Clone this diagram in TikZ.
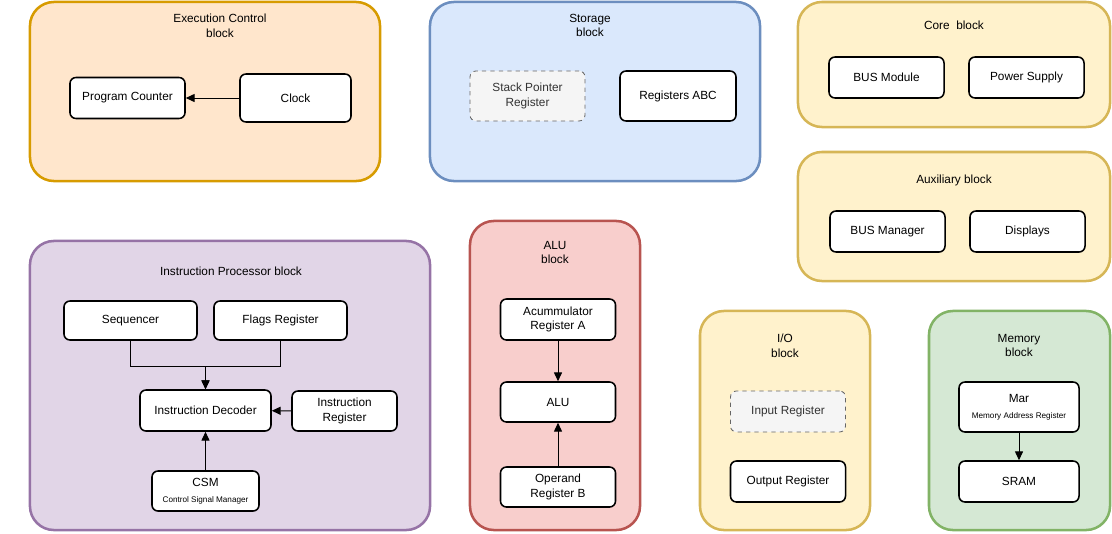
\documentclass[tikz,border=0pt]{standalone}
\usepackage{fontspec}
\setmainfont{Liberation Sans}
\usetikzlibrary{arrows.meta}
\definecolor{orgfill}{HTML}{FFE6CC}\definecolor{orgdraw}{HTML}{D79B00}
\definecolor{bluefill}{HTML}{DAE8FC}\definecolor{bluedraw}{HTML}{6C8EBF}
\definecolor{yelfill}{HTML}{FFF2CC}\definecolor{yeldraw}{HTML}{D6B656}
\definecolor{purfill}{HTML}{E1D5E7}\definecolor{purdraw}{HTML}{9673A6}
\definecolor{redfill}{HTML}{F8CECC}\definecolor{reddraw}{HTML}{B85450}
\definecolor{grnfill}{HTML}{D5E8D4}\definecolor{grndraw}{HTML}{82B366}
\definecolor{gryfill}{HTML}{F5F5F5}\definecolor{grydraw}{HTML}{666666}
\definecolor{grytext}{HTML}{333333}
\newcommand\subtxt[1]{{\fontsize{5.8}{7}\selectfont #1}}
\tikzset{
	block/.style 2 args={draw=#1, fill=#2, line width=1.8pt, rounded corners=0.6cm, inner sep=0pt},
	unit/.style={draw, fill=white, line width=1.1pt, rounded corners=0.15cm, align=center,
		minimum width=2.875cm, minimum height=1.025cm, inner sep=1pt},
	ghost/.style={unit, draw=grydraw, fill=gryfill, text=grytext, dashed, line width=0.6pt},
	title/.style={align=center, font=\fontsize{8.4}{10.5}\selectfont},
	arr/.style={-{Triangle[length=2.2mm,width=2mm]}, line width=0.7pt}
}
\begin{document}
\begin{tikzpicture}[x=0.025cm, y=-0.025cm, font=\fontsize{8.4}{10.5}\selectfont]
		\useasboundingbox (0,0) rectangle (1112,533);
		% Execution control
		\node[block={orgdraw}{orgfill}, minimum width=8.75cm, minimum height=4.475cm] (exec) at (205,91.5) {};
		\node[title] (execT) at (220,25.5) {Execution Control\\block};
		\node[unit] (pc) at (127.5,98) {Program Counter};
		\node[unit, minimum width=2.775cm, minimum height=1.2cm] (clk) at (295.5,98) {Clock};
		\draw[arr] (clk) -- (pc);
		% Storage
		\node[block={bluedraw}{bluefill}, minimum width=8.25cm, minimum height=4.475cm] (stor) at (595,91.5) {};
		\node[title] (storT) at (590,25.5) {Storage\\block};
		\node[ghost, minimum height=1.25cm] (sp) at (527.5,96) {Stack Pointer\\Register};
		\node[unit, minimum width=2.9cm, minimum height=1.25cm] (abc) at (678,96) {Registers ABC};
		% Core
		\node[block={yeldraw}{yelfill}, minimum width=7.8cm, minimum height=3.125cm] (core) at (954,64.5) {};
		\node[title] (coreT) at (954,25) {Core\ \ block};
		\node[unit] (bus) at (886.5,77.5) {BUS Module};
		\node[unit] (pwr) at (1026.5,77.5) {Power Supply};
		% Auxiliary
		\node[block={yeldraw}{yelfill}, minimum width=7.8cm, minimum height=3.225cm] (aux) at (954,216.5) {};
		\node[title] (auxT) at (954,180) {Auxiliary block};
		\node[unit] (busm) at (887.5,231.5) {BUS Manager};
		\node[unit] (disp) at (1027.5,231.5) {Displays};
		% Instruction processor
		\node[block={purdraw}{purfill}, minimum width=10cm, minimum height=7.225cm] (ip) at (230,385.5) {};
		\node[title] (ipT) at (231,271) {Instruction Processor block};
		\node[unit, minimum width=3.325cm, minimum height=0.975cm] (seq) at (130.5,320.5) {Sequencer};
		\node[unit, minimum width=3.325cm, minimum height=0.975cm] (flags) at (280.5,320.5) {Flags Register};
		\node[unit, minimum width=3.275cm] (dec) at (205.5,410.5) {Instruction Decoder};
		\node[unit, minimum width=2.625cm, minimum height=1cm] (ireg) at (344.5,411) {Instruction\\Register};
		\node[unit, minimum width=2.675cm, minimum height=1cm] (csm) at (205.5,491) {CSM\\[1pt]\subtxt{Control Signal Manager}};
		\coordinate (join) at (205.5,366);
		\draw[arr] (seq.south) |- (join) -- (dec.north);
		\draw[arr] (flags.south) |- (join) -- (dec.north);
		\draw[arr] (ireg) -- (dec);
		\draw[arr] (csm) -- (dec);
		% ALU
		\node[block={reddraw}{redfill}, minimum width=4.25cm, minimum height=7.725cm] (alublk) at (555,375.5) {};
		\node[title] (aluT) at (555,252.5) {ALU\\block};
		\node[unit] (acc) at (558,319.5) {Acummulator\\Register A};
		\node[unit, minimum height=1cm] (alu) at (558,402) {ALU};
		\node[unit, minimum height=1cm] (opb) at (558,487) {Operand\\Register B};
		\draw[arr] (acc) -- (alu);
		\draw[arr] (opb) -- (alu);
		% I/O
		\node[block={yeldraw}{yelfill}, minimum width=4.25cm, minimum height=5.475cm] (io) at (785,420.5) {};
		\node[title] (ioT) at (785,345.5) {I/O\\block};
		\node[ghost] (inreg) at (788,411.5) {Input Register};
		\node[unit] (outreg) at (788,481.5) {Output Register};
		% Memory
		\node[block={grndraw}{grnfill}, minimum width=4.525cm, minimum height=5.475cm] (mem) at (1019.5,420.5) {};
		\node[title] (memT) at (1019,345.5) {Memory\\block};
		\node[unit, minimum width=3cm, minimum height=1.25cm] (mar) at (1019,407) {Mar\\[1pt]\subtxt{Memory Address Register}};
		\node[unit, minimum width=3cm] (sram) at (1019,481.5) {SRAM};
		\draw[arr] (mar) -- (sram);
	\end{tikzpicture}
\end{document}
